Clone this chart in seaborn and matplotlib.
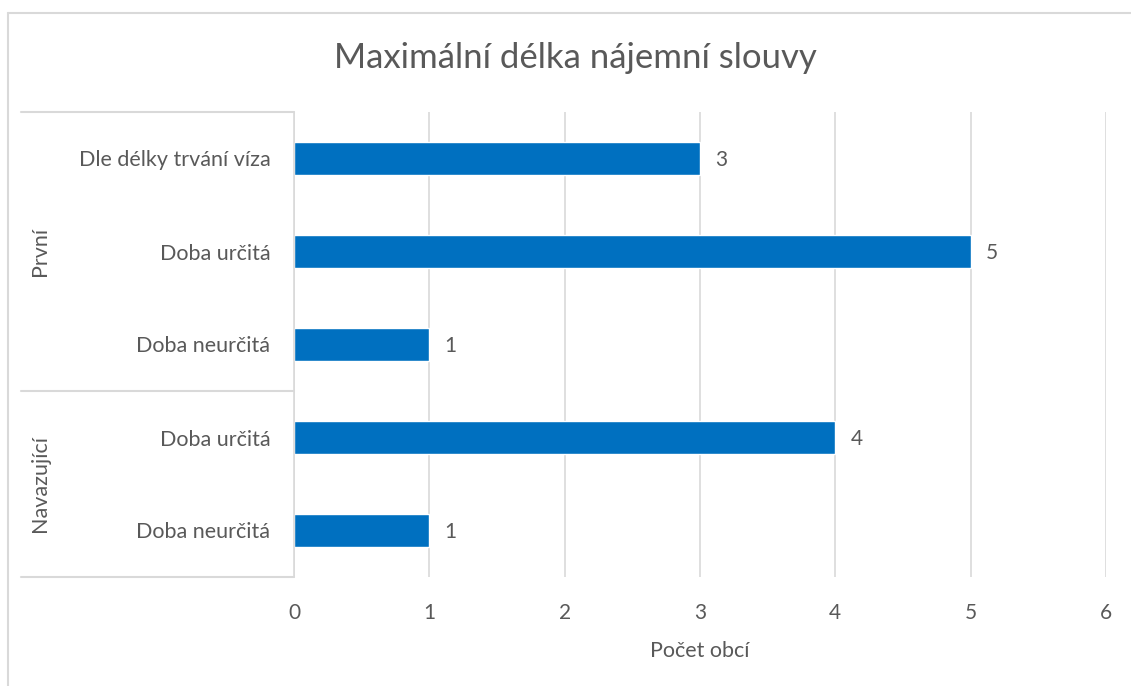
import pandas as pd
import matplotlib.pyplot as plt
import seaborn as sns
from matplotlib.lines import Line2D
import matplotlib.transforms as mtransforms

# data (top to bottom)
skupiny = ['První', 'První', 'První', 'Navazující', 'Navazující']
kategorie = ['Dle délky trvání víza', 'Doba určitá', 'Doba neurčitá', 'Doba určitá', 'Doba neurčitá']
pocet = [3, 5, 1, 4, 1]

df = pd.DataFrame({'skupina': skupiny, 'kategorie': kategorie, 'pocet': pocet})
df['klic'] = df['skupina'] + ' | ' + df['kategorie']

sns.set_style('white')
plt.rcParams['font.family'] = ['Lato', 'DejaVu Sans']

seda = '#595959'
mrizka = '#D9D9D9'
modra = '#0070C0'

fig = plt.figure(figsize=(11.31, 6.86), dpi=100)
ax = fig.add_axes([294 / 1131, 1 - 577 / 686, (1106 - 294) / 1131, (577 - 112) / 686])

sns.barplot(data=df, x='pocet', y='klic', order=list(df['klic']), color=modra,
            width=0.35, saturation=1, ax=ax, orient='h')

ax.set_xlim(0, 6)
ax.set_xticks(range(0, 7))
ax.set_ylim(len(df) - 0.5, -0.5)
ax.grid(axis='x', color=mrizka, linewidth=1.2)
ax.set_axisbelow(True)
for s in ['top', 'right', 'bottom']:
    ax.spines[s].set_visible(False)
ax.spines['left'].set_color(mrizka)
ax.spines['left'].set_linewidth(1.2)

ax.set_yticks(range(len(df)))
ax.set_yticklabels(kategorie, fontsize=15.5, color=seda)
ax.tick_params(axis='y', length=0, pad=17)
ax.tick_params(axis='x', length=0, pad=19, labelsize=15, labelcolor=seda)
ax.set_xlabel('Počet obcí', fontsize=15.5, color=seda, labelpad=13)
ax.set_ylabel('')

# popisky hodnot
for i, v in enumerate(pocet):
    ax.annotate(str(v), (v, i), xytext=(11, -1), textcoords='offset points',
                va='center', ha='left', fontsize=15, color=seda)

# skupiny na ose y
trans = mtransforms.blended_transform_factory(fig.transFigure, ax.transData)
for g in ['První', 'Navazující']:
    idx = [i for i, s in enumerate(skupiny) if s == g]
    stred = (idx[0] + idx[-1]) / 2
    ax.text(40 / 1131, stred, g, transform=trans, rotation=90, ha='center', va='center',
            fontsize=15.5, color=seda)

# oddelovaci cary skupin
hranice = [-0.5, 2.5, 4.5]
for h in hranice:
    ax.add_line(Line2D([21 / 1131, 294 / 1131], [h, h], transform=trans, color=mrizka,
                       linewidth=1.5, clip_on=False))

fig.suptitle('Maximální délka nájemní slouvy', x=575 / 1131, y=1 - 58 / 686, va='center',
             fontsize=25, color=seda)

# ramecek grafu
fig.add_artist(Line2D([8 / 1131, 8 / 1131], [0, 1 - 13 / 686], transform=fig.transFigure,
                      color=mrizka, linewidth=1.5))
fig.add_artist(Line2D([8 / 1131, 1], [1 - 13 / 686, 1 - 13 / 686], transform=fig.transFigure,
                      color=mrizka, linewidth=1.5))

plt.savefig('out.png', dpi=100)
